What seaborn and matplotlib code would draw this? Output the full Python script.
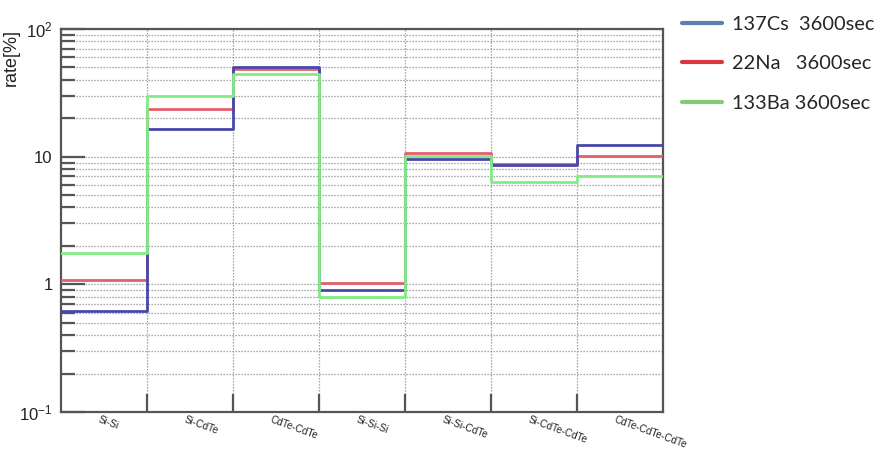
import numpy as np
import pandas as pd
import matplotlib
matplotlib.use("Agg")
import matplotlib.pyplot as plt
from matplotlib.lines import Line2D
from matplotlib.ticker import FixedLocator, NullFormatter, LogLocator
import seaborn as sns

# Coincidence categories (x bins)
categories = ["Si-Si", "Si-CdTe", "CdTe-CdTe", "Si-Si-Si",
              "Si-Si-CdTe", "Si-CdTe-CdTe", "CdTe-CdTe-CdTe"]

# Event rates [%] per category for each source
cs137 = [0.62, 16.6, 50.5, 0.90, 9.6, 8.6, 12.4]
na22 = [1.08, 23.7, 48.5, 1.02, 10.7, 8.8, 10.1]
ba133 = [1.75, 29.7, 44.8, 0.79, 10.2, 6.3, 7.0]

series_names = ["137Cs", "22Na", "133Ba"]
legend_labels = ["137Cs  3600sec", "22Na   3600sec", "133Ba 3600sec"]
y_tick_values = [0.1, 1, 10, 100]
y_tick_labels = [r"$\mathregular{10^{-1}}$", "1", "10", r"$\mathregular{10^{2}}$"]

line_colors = {"137Cs": "#4848a8", "22Na": "#e3606e", "133Ba": "#82ec82"}
legend_colors = {"137Cs": "#5b7fae", "22Na": "#d9373f", "133Ba": "#86c977"}

# Long-form table: each bin starts at its left edge; the last value is
# repeated at the right edge so the step closes the final bin.
edges = np.arange(len(categories) + 1)
rows = []
for name, vals in zip(series_names, [cs137, na22, ba133]):
    ext = list(vals) + [vals[-1]]
    for e, v in zip(edges, ext):
        rows.append({"edge": e, "rate": v, "source": name})
df = pd.DataFrame(rows)

sns.set_theme(style="white")
plt.rcParams["font.family"] = ["Liberation Sans", "DejaVu Sans"]
plt.rcParams["font.sans-serif"] = ["Liberation Sans", "DejaVu Sans"]
plt.rcParams["mathtext.fontset"] = "custom"
plt.rcParams["mathtext.rm"] = "Liberation Sans"

fig = plt.figure(figsize=(8.8, 4.5), dpi=100)
ax = fig.add_axes([0.0693, 0.0844, 0.6841, 0.8512])

sns.lineplot(data=df, x="edge", y="rate", hue="source",
             hue_order=["22Na", "137Cs", "133Ba"], palette=line_colors,
             drawstyle="steps-post", estimator=None, sort=False,
             linewidth=2.0, legend=False, ax=ax, zorder=3)

ax.set_yscale("log")
ax.set_ylim(0.1, 100)
ax.set_xlim(0, len(categories))

# y axis: decades labelled, minor ticks at 2..9
ax.yaxis.set_major_locator(FixedLocator(y_tick_values))
ax.set_yticklabels(y_tick_labels)
ax.yaxis.set_minor_locator(LogLocator(base=10, subs=np.arange(2, 10)))
ax.yaxis.set_minor_formatter(NullFormatter())
ax.tick_params(axis="y", which="major", direction="in", length=17, width=1.6,
               color="#555555", labelsize=12, labelcolor="#222222", pad=6,
               left=True, right=False)
ax.tick_params(axis="y", which="minor", direction="in", length=10, width=1.6,
               color="#555555", left=True, right=False)

# x axis: category labels at bin centres, tick marks at bin boundaries
centers = np.arange(len(categories)) + 0.5
ax.set_xticks(centers - 0.04)
ax.set_xticklabels(categories, rotation=-20, ha="left", va="top",
                   rotation_mode="anchor", fontsize=7.2, color="#222222")
ax.set_xticks(edges[1:-1], minor=True)
ax.tick_params(axis="x", which="major", length=0, pad=1.5)
ax.tick_params(axis="x", which="minor", direction="in", length=13, width=1.6,
               color="#555555", bottom=True, top=False)

# dotted grid
ax.grid(True, axis="y", which="both", color="#8c8c8c", linestyle=(0, (1, 1.4)),
        linewidth=0.9, zorder=1)
ax.grid(True, axis="x", which="minor", color="#8c8c8c", linestyle=(0, (1, 1.4)),
        linewidth=0.9, zorder=1)
ax.grid(False, axis="x", which="major")

for sp in ax.spines.values():
    sp.set_color("#555555")
    sp.set_linewidth(1.6)

ax.set_xlabel("")
ax.set_ylabel("rate[%]", loc="top", fontsize=13, color="#222222")
ax.yaxis.set_label_coords(-0.068, 1.0)

handles = [Line2D([], [], color=legend_colors[n], linewidth=3) for n in series_names]
fig.legend(handles, legend_labels, loc="upper left", bbox_to_anchor=(0.755, 1.005),
           frameon=False, handlelength=2.0, handletextpad=0.5, labelspacing=1.12,
           prop={"family": ["Lato", "DejaVu Sans"], "size": 14.4})

fig.savefig("out.png", dpi=100, facecolor="white")
